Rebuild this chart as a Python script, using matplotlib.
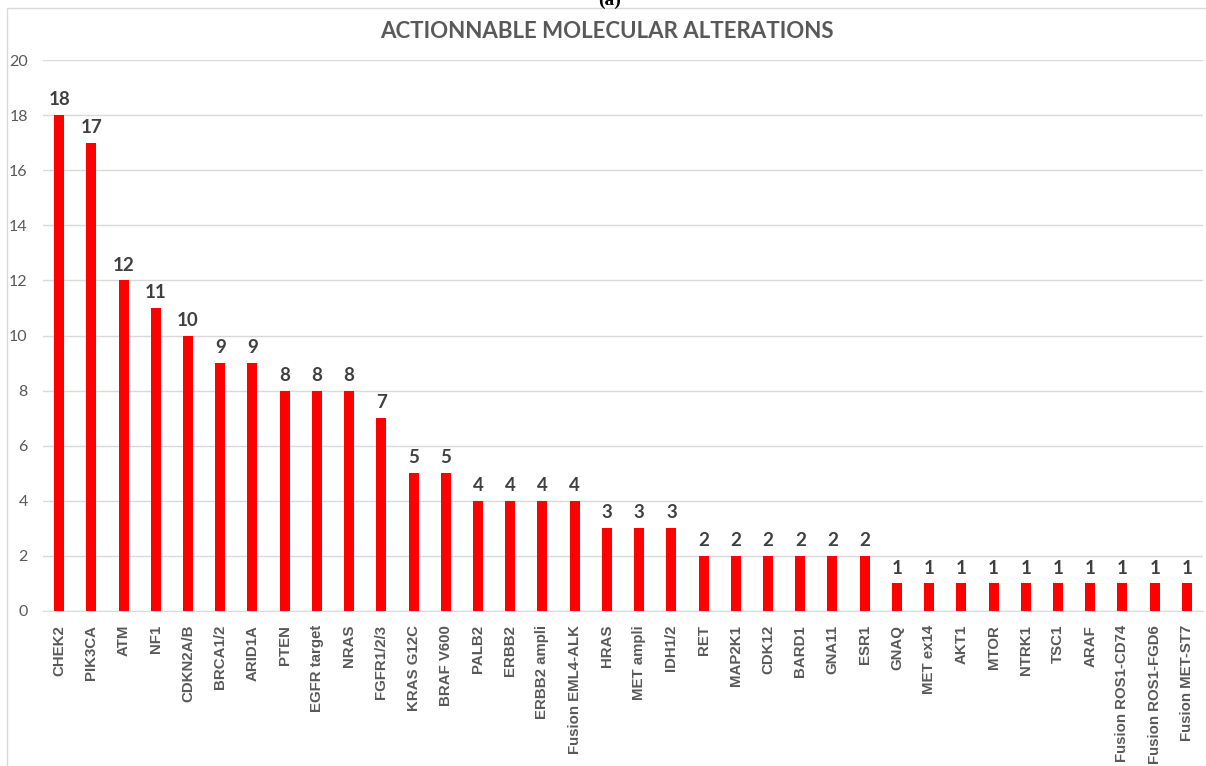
import matplotlib
matplotlib.use('Agg')
import matplotlib.pyplot as plt
from matplotlib.patches import Rectangle

# 遺伝子ごとの件数
genes = ['CHEK2', 'PIK3CA', 'ATM', 'NF1', 'CDKN2A/B', 'BRCA1/2', 'ARID1A', 'PTEN',
         'EGFR target', 'NRAS', 'FGFR1/2/3', 'KRAS G12C', 'BRAF V600', 'PALB2', 'ERBB2',
         'ERBB2 ampli', 'Fusion EML4-ALK', 'HRAS', 'MET ampli', 'IDH1/2', 'RET', 'MAP2K1',
         'CDK12', 'BARD1', 'GNA11', 'ESR1', 'GNAQ', 'MET ex14', 'AKT1', 'MTOR', 'NTRK1',
         'TSC1', 'ARAF', 'Fusion ROS1-CD74', 'Fusion ROS1-FGD6', 'Fusion MET-ST7']
counts = [18, 17, 12, 11, 10, 9, 9, 8, 8, 8, 7, 5, 5, 4, 4, 4, 4, 3, 3, 3,
          2, 2, 2, 2, 2, 2, 1, 1, 1, 1, 1, 1, 1, 1, 1, 1]
yticks = list(range(0, 21, 2))

W, H = 1206, 766
fig = plt.figure(figsize=(W / 100, H / 100), dpi=100)
ax = fig.add_axes([43 / W, 1 - 611 / H, 1160 / W, 551 / H])

x = range(len(genes))
ax.bar(x, counts, width=0.31, color='#FF0000', zorder=3)

for i, c in zip(x, counts):
    ax.text(i, c + 0.25, str(c), ha='center', va='bottom', fontsize=13.5,
            fontweight='bold', family='Lato', color='#404040')

ax.set_xlim(-0.5, len(genes) - 0.5)
ax.set_ylim(0, 20)
ax.set_yticks(yticks)
ax.set_yticklabels([str(v) for v in yticks], family='Lato', fontsize=11.5, color='#595959')
ax.set_xticks(list(x))
ax.set_xticklabels(genes, rotation=90, family='Liberation Sans', fontsize=10.8,
                   fontweight='bold', color='#595959')
ax.tick_params(axis='both', length=0)
ax.tick_params(axis='y', pad=11)
ax.tick_params(axis='x', pad=10)
ax.grid(axis='y', color='#d9d9d9', linewidth=1, zorder=0)
for s in ['top', 'right', 'left']:
    ax.spines[s].set_visible(False)
ax.spines['bottom'].set_color('#d9d9d9')

# チャート枠
fig.patches.append(Rectangle((7 / W, -0.1), 1.2, 1 - 8 / H + 0.1, transform=fig.transFigure,
                             fill=False, edgecolor='#d9d9d9', linewidth=1))

fig.text(0.503, 1 - 32 / H, 'ACTIONNABLE MOLECULAR ALTERATIONS', ha='center', va='center',
         fontsize=16, fontweight='bold', family='Lato', color='#595959')
fig.text(610 / W, 1 - 5 / H, '(a)', ha='center', va='baseline', fontsize=14,
         fontweight='bold', family='Liberation Serif', color='black')

fig.savefig('out.png', dpi=100)
